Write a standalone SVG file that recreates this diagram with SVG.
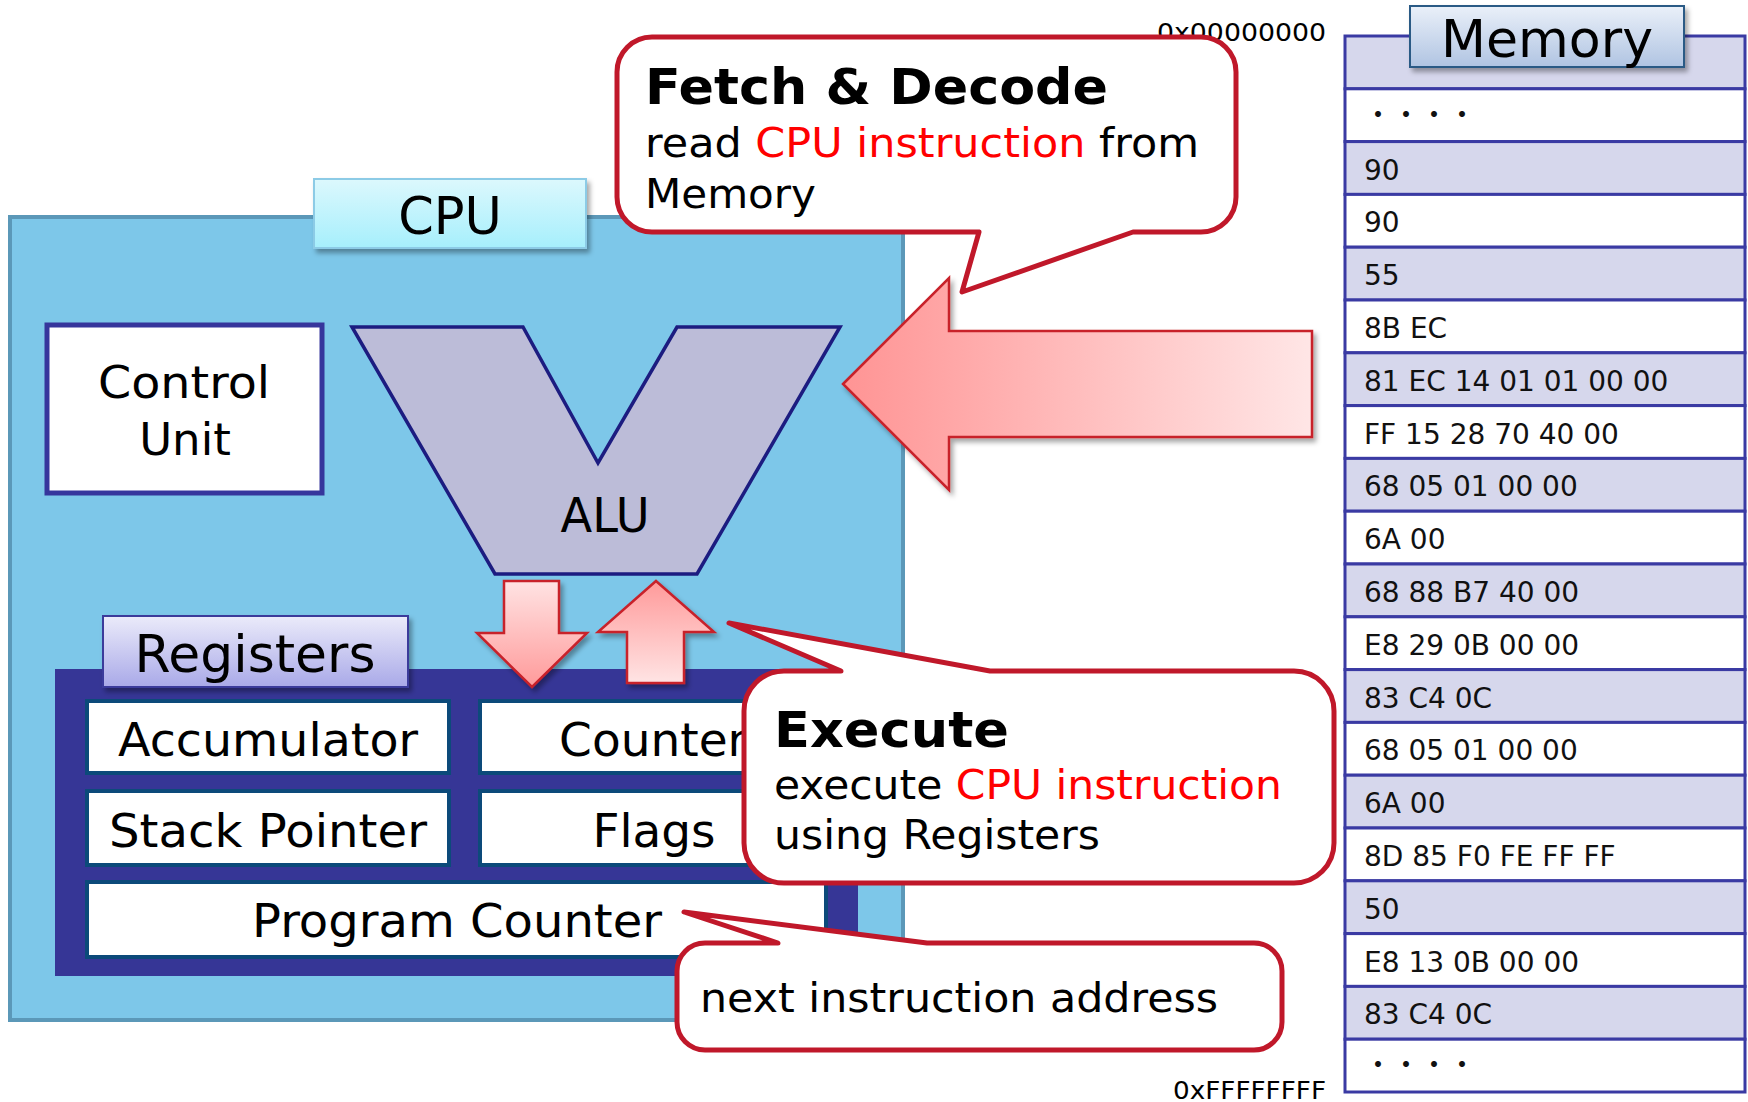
<svg xmlns="http://www.w3.org/2000/svg" width="1748" height="1102" viewBox="0 0 1748 1102">
  <style>
    .t { font-family: "DejaVu Sans", "Noto Sans", sans-serif; fill: #000; }
    .b { font-weight: bold; }
    .red { fill: #ff0000; }
    .reg { fill: #ffffff; stroke: #0c4a7a; stroke-width: 4; }
    .row-a { fill: #d6d7ec; stroke: #3a3aa3; stroke-width: 3; }
    .row-b { fill: #ffffff; stroke: #3a3aa3; stroke-width: 3; }
    .mem { font-family: "DejaVu Sans", "Noto Sans", sans-serif; font-size: 28px; fill: #111; }
    .dots { font-family: "Noto Sans CJK JP", sans-serif; font-size: 28px; fill: #111; }
    .callout { fill: #ffffff; stroke: #c0182a; stroke-width: 5; stroke-linejoin: round; }
    .arrow { stroke: #c8202a; stroke-width: 2.5; stroke-linejoin: miter; }
  </style>
  <defs>
    <filter id="shadow" x="-10%" y="-10%" width="130%" height="140%">
      <feDropShadow dx="3" dy="4" stdDeviation="2.5" flood-color="#000" flood-opacity="0.35"/>
    </filter>
    <linearGradient id="gCpuLabel" x1="0" y1="0" x2="0" y2="1">
      <stop offset="0" stop-color="#dcf8fd"/>
      <stop offset="1" stop-color="#a6effc"/>
    </linearGradient>
    <linearGradient id="gMemLabel" x1="0" y1="0" x2="0" y2="1">
      <stop offset="0" stop-color="#eaf0f9"/>
      <stop offset="1" stop-color="#b0c4e2"/>
    </linearGradient>
    <linearGradient id="gRegLabel" x1="0" y1="0" x2="0" y2="1">
      <stop offset="0" stop-color="#ebebfa"/>
      <stop offset="1" stop-color="#a9a9e8"/>
    </linearGradient>
    <linearGradient id="gLeft" x1="0" y1="0" x2="1" y2="0">
      <stop offset="0" stop-color="#ff9494"/>
      <stop offset="1" stop-color="#ffe6e6"/>
    </linearGradient>
    <linearGradient id="gDown" x1="0" y1="0" x2="0" y2="1">
      <stop offset="0" stop-color="#ffe3e3"/>
      <stop offset="1" stop-color="#ff9a9a"/>
    </linearGradient>
    <linearGradient id="gUp" x1="0" y1="0" x2="0" y2="1">
      <stop offset="0" stop-color="#ff9a9a"/>
      <stop offset="1" stop-color="#ffe4e4"/>
    </linearGradient>
  </defs>

  <rect width="1748" height="1102" fill="#ffffff"/>

  <!-- CPU enclosure -->
  <g id="cpu">
    <rect x="10" y="217" width="893" height="803" fill="#7dc7e9" stroke="#5b98b8" stroke-width="4"/>
    <rect x="314" y="179" width="272" height="69" fill="url(#gCpuLabel)" stroke="#8ccbe6" stroke-width="2" filter="url(#shadow)"/>
    <text class="t" x="450" y="234" font-size="51" text-anchor="middle">CPU</text>
  </g>

  <g id="control-unit">
    <rect x="47" y="325" width="275" height="168" fill="#ffffff" stroke="#36369c" stroke-width="5"/>
    <text class="t" x="184" y="398" font-size="45" text-anchor="middle" textLength="172" lengthAdjust="spacingAndGlyphs">Control</text>
    <text class="t" x="185" y="455" font-size="45" text-anchor="middle">Unit</text>
  </g>

  <g id="alu">
    <polygon points="352,327 523,327 598,463 677,327 840,327 697,574 495,574" fill="#bcbcd8" stroke="#1c1c80" stroke-width="3.5" stroke-linejoin="miter"/>
    <text class="t" x="605" y="532" font-size="48" text-anchor="middle" textLength="89" lengthAdjust="spacingAndGlyphs">ALU</text>
  </g>

  <!-- register file -->
  <g id="registers">
    <rect x="55" y="669" width="803" height="307" fill="#363696"/>
    <rect x="103" y="616" width="305" height="71" fill="url(#gRegLabel)" stroke="#3b3b9b" stroke-width="2" filter="url(#shadow)"/>
    <text class="t" x="255" y="672" font-size="51" text-anchor="middle" textLength="241" lengthAdjust="spacingAndGlyphs">Registers</text>
  </g>
  <g id="reg-accumulator">
    <rect class="reg" x="87" y="701" width="362" height="72"/>
    <text class="t" x="268" y="756" font-size="47" text-anchor="middle" textLength="300" lengthAdjust="spacingAndGlyphs">Accumulator</text>
  </g>
  <g id="reg-counter">
    <rect class="reg" x="480" y="701" width="346" height="72"/>
    <text class="t" x="653" y="756" font-size="47" text-anchor="middle">Counter</text>
  </g>
  <g id="reg-stack-pointer">
    <rect class="reg" x="87" y="791" width="362" height="74"/>
    <text class="t" x="268" y="847" font-size="47" text-anchor="middle" textLength="318" lengthAdjust="spacingAndGlyphs">Stack Pointer</text>
  </g>
  <g id="reg-flags">
    <rect class="reg" x="480" y="791" width="346" height="74"/>
    <text class="t" x="654" y="847" font-size="47" text-anchor="middle">Flags</text>
  </g>
  <g id="reg-program-counter">
    <rect class="reg" x="87" y="882" width="739" height="75"/>
    <text class="t" x="457" y="937" font-size="47" text-anchor="middle" textLength="410" lengthAdjust="spacingAndGlyphs">Program Counter</text>
  </g>

  <!-- main memory column -->
  <g id="memory">
    <rect class="row-a" x="1345" y="36" width="400" height="52.8"/>
    <rect class="row-b" x="1345" y="88.8" width="400" height="52.8"/>
    <rect class="row-a" x="1345" y="141.6" width="400" height="52.8"/>
    <rect class="row-b" x="1345" y="194.4" width="400" height="52.8"/>
    <rect class="row-a" x="1345" y="247.2" width="400" height="52.8"/>
    <rect class="row-b" x="1345" y="300" width="400" height="52.8"/>
    <rect class="row-a" x="1345" y="352.8" width="400" height="52.8"/>
    <rect class="row-b" x="1345" y="405.6" width="400" height="52.8"/>
    <rect class="row-a" x="1345" y="458.4" width="400" height="52.8"/>
    <rect class="row-b" x="1345" y="511.2" width="400" height="52.8"/>
    <rect class="row-a" x="1345" y="564" width="400" height="52.8"/>
    <rect class="row-b" x="1345" y="616.8" width="400" height="52.8"/>
    <rect class="row-a" x="1345" y="669.6" width="400" height="52.8"/>
    <rect class="row-b" x="1345" y="722.4" width="400" height="52.8"/>
    <rect class="row-a" x="1345" y="775.2" width="400" height="52.8"/>
    <rect class="row-b" x="1345" y="828" width="400" height="52.8"/>
    <rect class="row-a" x="1345" y="880.8" width="400" height="52.8"/>
    <rect class="row-b" x="1345" y="933.6" width="400" height="52.8"/>
    <rect class="row-a" x="1345" y="986.4" width="400" height="52.8"/>
    <rect class="row-b" x="1345" y="1039.2" width="400" height="52.8"/>

    <text class="dots" x="1364" y="125">・・・・</text>
    <text class="mem" x="1364" y="180">90</text>
    <text class="mem" x="1364" y="232">90</text>
    <text class="mem" x="1364" y="285">55</text>
    <text class="mem" x="1364" y="338">8B EC</text>
    <text class="mem" x="1364" y="391">81 EC 14 01 01 00 00</text>
    <text class="mem" x="1364" y="444">FF 15 28 70 40 00</text>
    <text class="mem" x="1364" y="496">68 05 01 00 00</text>
    <text class="mem" x="1364" y="549">6A 00</text>
    <text class="mem" x="1364" y="602">68 88 B7 40 00</text>
    <text class="mem" x="1364" y="655">E8 29 0B 00 00</text>
    <text class="mem" x="1364" y="708">83 C4 0C</text>
    <text class="mem" x="1364" y="760">68 05 01 00 00</text>
    <text class="mem" x="1364" y="813">6A 00</text>
    <text class="mem" x="1364" y="866">8D 85 F0 FE FF FF</text>
    <text class="mem" x="1364" y="919">50</text>
    <text class="mem" x="1364" y="972">E8 13 0B 00 00</text>
    <text class="mem" x="1364" y="1024">83 C4 0C</text>
    <text class="dots" x="1364" y="1075">・・・・</text>

    <rect x="1410" y="6" width="274" height="61" fill="url(#gMemLabel)" stroke="#2a5a85" stroke-width="2" filter="url(#shadow)"/>
    <text class="t" x="1547" y="57" font-size="51" text-anchor="middle" textLength="212" lengthAdjust="spacingAndGlyphs">Memory</text>

    <text class="t" x="1326" y="41" font-size="25" text-anchor="end" fill="#222" textLength="169" lengthAdjust="spacingAndGlyphs">0x00000000</text>
    <text class="t" x="1326" y="1099" font-size="24" text-anchor="end" fill="#222" textLength="153" lengthAdjust="spacingAndGlyphs">0xFFFFFFFF</text>
  </g>

  <!-- data flow arrows -->
  <g id="connectors">
    <polygon class="arrow" points="843,384 949,278 949,331 1312,331 1312,437 949,437 949,490" fill="url(#gLeft)" filter="url(#shadow)"/>
    <polygon class="arrow" points="504,581 559,581 559,633 587,633 532,687 477,633 504,633" fill="url(#gDown)" filter="url(#shadow)"/>
    <polygon class="arrow" points="656,581 714,632 684,632 684,683 627,683 627,632 598,632" fill="url(#gUp)" filter="url(#shadow)"/>
  </g>

  <!-- callouts -->
  <g id="callout-fetch">
    <path class="callout" d="M652,37 H1201 A35,35 0 0 1 1236,72 V197 A35,35 0 0 1 1201,232 H1133 L962,292 L979,232 H652 A35,35 0 0 1 617,197 V72 A35,35 0 0 1 652,37 Z"/>
    <text class="t b" x="645" y="104" font-size="50" textLength="463" lengthAdjust="spacingAndGlyphs">Fetch &amp; Decode</text>
    <text class="t" x="645" y="157" font-size="41" textLength="554" lengthAdjust="spacingAndGlyphs">read <tspan class="red">CPU instruction</tspan> from</text>
    <text class="t" x="645" y="208" font-size="41" textLength="171" lengthAdjust="spacingAndGlyphs">Memory</text>
  </g>

  <g id="callout-execute">
    <path class="callout" d="M784,671 H841 L729,623 L990,671 H1294 A40,40 0 0 1 1334,711 V843 A40,40 0 0 1 1294,883 H784 A40,40 0 0 1 744,843 V711 A40,40 0 0 1 784,671 Z"/>
    <text class="t b" x="774" y="747" font-size="50" textLength="235" lengthAdjust="spacingAndGlyphs">Execute</text>
    <text class="t" x="774" y="799" font-size="41" textLength="508" lengthAdjust="spacingAndGlyphs">execute <tspan class="red">CPU instruction</tspan></text>
    <text class="t" x="774" y="849" font-size="41" textLength="326" lengthAdjust="spacingAndGlyphs">using Registers</text>
  </g>

  <g id="callout-next">
    <path class="callout" d="M705,943 H778 L684,912 L927,943 H1254 A28,28 0 0 1 1282,971 V1022 A28,28 0 0 1 1254,1050 H705 A28,28 0 0 1 677,1022 V971 A28,28 0 0 1 705,943 Z"/>
    <text class="t" x="700" y="1012" font-size="41" textLength="518" lengthAdjust="spacingAndGlyphs">next instruction address</text>
  </g>
</svg>
